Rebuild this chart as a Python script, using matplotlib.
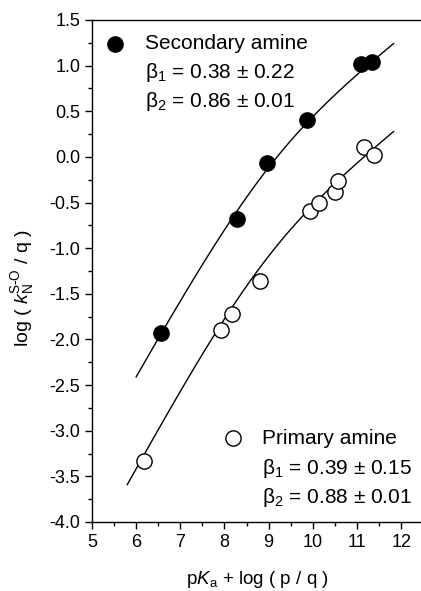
import numpy as np
import matplotlib
matplotlib.use("Agg")
from matplotlib import pyplot as plt
from matplotlib.ticker import MultipleLocator

plt.rcParams['font.family'] = ['Liberation Sans', 'DejaVu Sans']
plt.rcParams['mathtext.fontset'] = 'custom'
plt.rcParams['mathtext.rm'] = 'Liberation Sans'
plt.rcParams['mathtext.it'] = 'Liberation Sans:italic'

# secondary amines (filled)
sec_x = [6.56, 8.28, 8.96, 9.87, 11.10, 11.35]
sec_y = [-1.93, -0.68, -0.07, 0.40, 1.02, 1.04]
# primary amines (open)
pri_x = [6.17, 7.91, 8.17, 8.80, 9.94, 10.15, 10.51, 10.56, 11.17, 11.39]
pri_y = [-3.33, -1.90, -1.72, -1.36, -0.59, -0.51, -0.38, -0.26, 0.11, 0.02]

# Bronsted fit parameters: beta1, beta2, pKa0, log k0, x-range
sec_fit = (0.38, 0.86, 9.0, -0.116, 6.0, 11.83)
pri_fit = (0.39, 0.88, 8.9, -1.15, 5.8, 11.83)


def bronsted(p):
    b1, b2, x0, lk0, xa, xb = p
    x = np.linspace(xa, xb, 200)
    d = x - x0
    a = 10 ** ((b2 - b1) * d)
    return x, lk0 + b2 * d - np.log10((1 + a) / 2)


fig = plt.figure(figsize=(4.21, 5.91), dpi=100)
ax = fig.add_axes([0.2185, 0.1168, 0.7815, 0.8494])

for p in (sec_fit, pri_fit):
    fx, fy = bronsted(p)
    ax.plot(fx, fy, color='black', lw=1.0)

ax.plot(sec_x, sec_y, 'o', ms=11, mfc='black', mec='black', ls='none')
ax.plot(pri_x, pri_y, 'o', ms=11, mfc='white', mec='black', mew=1.0, ls='none')

ax.set_xlim(5, 12.45)
ax.set_ylim(-4.0, 1.5)
ax.xaxis.set_major_locator(MultipleLocator(1))
ax.xaxis.set_minor_locator(MultipleLocator(0.5))
ax.yaxis.set_major_locator(MultipleLocator(0.5))
ax.yaxis.set_minor_locator(MultipleLocator(0.25))
ax.yaxis.set_major_formatter(matplotlib.ticker.FormatStrFormatter('%.1f'))
ax.tick_params(which='major', direction='out', length=5, width=1, labelsize=13)
ax.tick_params(which='minor', direction='out', length=3, width=1)
ax.tick_params(top=False, right=False)
ax.spines['right'].set_visible(False)
for s in ('left', 'bottom', 'top'):
    ax.spines[s].set_linewidth(1.0)

ax.set_xlabel('p$\\it{K}$$_\\mathrm{a}$ + log ( p / q )', fontsize=13.5, va='top')
ax.xaxis.set_label_coords(0.502, -0.094)
ax.set_ylabel('log ( $\\it{k}$$_\\mathrm{N}^\\mathrm{S\\text{-}O}$ / q )', fontsize=14)
ax.yaxis.set_label_coords(-0.17, 0.466)

# legend-like annotations
ax.plot([5.52], [1.24], 'o', ms=11, mfc='black', mec='black')
ax.text(6.2, 1.24, 'Secondary amine', fontsize=15, va='center')
ax.text(6.2, 0.92, 'β$_1$ = 0.38 ± 0.22', fontsize=15, va='center')
ax.text(6.2, 0.61, 'β$_2$ = 0.86 ± 0.01', fontsize=15, va='center')

ax.plot([8.2], [-3.08], 'o', ms=11, mfc='white', mec='black', mew=1.0)
ax.text(8.85, -3.08, 'Primary amine', fontsize=15, va='center')
ax.text(8.85, -3.41, 'β$_1$ = 0.39 ± 0.15', fontsize=15, va='center')
ax.text(8.85, -3.73, 'β$_2$ = 0.88 ± 0.01', fontsize=15, va='center')

fig.savefig('out.png', dpi=100)
